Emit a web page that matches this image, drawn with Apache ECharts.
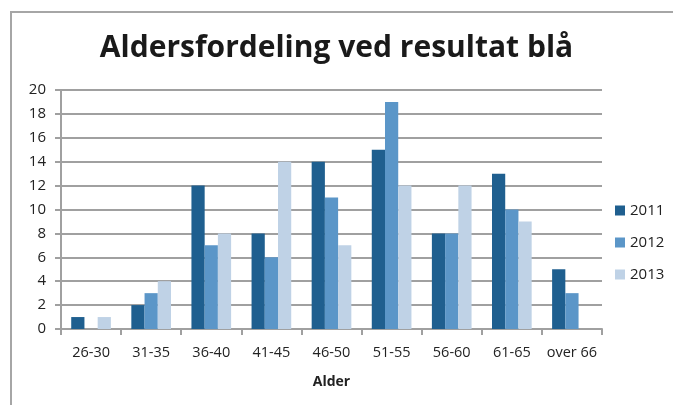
<!DOCTYPE html>
<html>
<head>
<meta charset="utf-8">
<script src="https://cdn.jsdelivr.net/npm/echarts@6/dist/echarts.min.js"></script>
<style>
html,body{margin:0;padding:0;background:#fff;}
#chart{width:673px;height:405px;}
</style>
</head>
<body>
<div id="chart"></div>
<script>
// aldersgrupper
const categories = ['26-30','31-35','36-40','41-45','46-50','51-55','56-60','61-65','over 66'];
const years = ['2011','2012','2013'];
const data2011 = [1, 2, 12, 8, 14, 15, 8, 13, 5];
const data2012 = [0, 3, 7, 6, 11, 19, 8, 10, 3];
const data2013 = [1, 4, 8, 14, 7, 12, 12, 9, 0];
const colors = ['#1f5f8f', '#5b96c8', '#bfd2e6'];

const font = '"Open Sans", sans-serif';

let chart = echarts.init(document.getElementById('chart'));
let option = {
    animation:false,
    color: colors,
    title:{
        text:'Aldersfordeling ved resultat blå',
        left:'center',
        top:28,
        textStyle:{
            fontFamily: font,
            fontSize:30,
            fontWeight:'bold',
            color:'#1a1a1a'
        }
    },
    graphic:[{
        type:'rect',
        shape:{x:11, y:12, width:700, height:450},
        style:{fill:'none', stroke:'#a6a6a6', lineWidth:2},
        silent:true
    }],
    legend: {
        orient:'vertical',
        left:610,
        top:198,
        itemWidth:10,
        itemHeight:10,
        itemGap:17,
        icon:'rect',
        textStyle:{fontFamily:font, fontSize:15, color:'#222'}
    },
    grid:{
        left:61,
        right:71,
        top:90,
        bottom:76
    },
    xAxis: {
        type:'category',
        data:categories,
        name:'Alder',
        nameLocation:'middle',
        nameGap:46,
        nameTextStyle:{fontFamily:font, fontSize:14, fontWeight:'bold', color:'#222'},
        axisLine:{lineStyle:{color:'#a0a0a0', width:2}},
        axisTick:{show:true, length:6, lineStyle:{color:'#a0a0a0', width:2}},
        axisLabel:{interval:0, fontFamily:font, fontSize:14.5, color:'#222', margin:16}
    },
    yAxis: {
        type:'value',
        min:0,
        max:20,
        interval:2,
        axisLine:{show:true, lineStyle:{color:'#a0a0a0', width:2}},
        axisTick:{show:true, length:6, lineStyle:{color:'#a0a0a0', width:2}},
        splitLine:{lineStyle:{color:'#a0a0a0', width:2}},
        axisLabel:{fontFamily:font, fontSize:15, color:'#222', margin:15}
    },
    series: [
        {name:years[0], type:'bar', data:data2011, barWidth:'22%', barGap:'0%'},
        {name:years[1], type:'bar', data:data2012, barWidth:'22%', barGap:'0%'},
        {name:years[2], type:'bar', data:data2013, barWidth:'22%', barGap:'0%'}
    ]
};
chart.setOption(option);
</script>
</body>
</html>
